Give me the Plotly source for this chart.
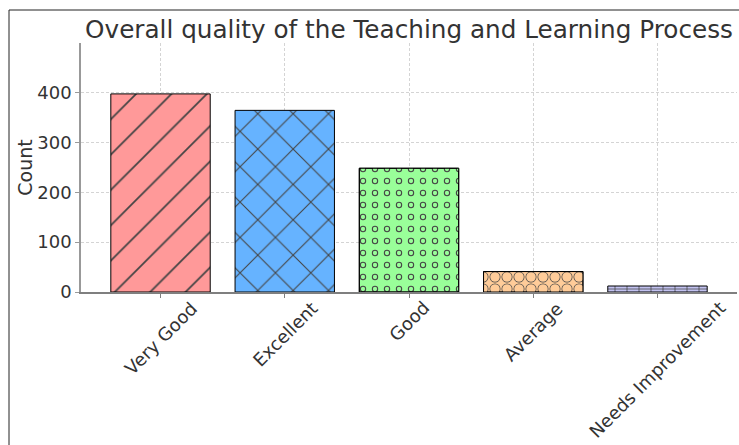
import plotly.graph_objects as go

categories = ['Very Good', 'Excellent', 'Good', 'Average', 'Needs Improvement']
counts = [397, 364, 248, 41, 12]
colors = ['#ff9999', '#66b3ff', '#99ff99', '#ffcc99', '#c2c2f0']
patterns = ['/', 'x', '.', '.', '+']
pattern_sizes = [25, 25, 12, 12, 12]
pattern_solidity = [0.07, 0.085, 0.22, 0.66, 0.12]
# inner holes punched into the dot patterns so they read as rings
hole_solidity = [0, 0, 0.1, 0.5, 0]
y_ticks = [0, 100, 200, 300, 400]

FONT = 'DejaVu Sans'
TEXT_COLOR = '#333333'
W, H = 739, 445
L, R, T, B = 81, 2, 43, 153

fig = go.Figure()
fig.add_trace(go.Bar(
    x=categories, y=counts, width=0.8,
    marker=dict(color=colors,
                line=dict(color='black', width=1),
                pattern=dict(shape=patterns, size=pattern_sizes,
                             solidity=pattern_solidity, fgcolor='black',
                             fgopacity=1)),
))
ring_idx = [i for i, s in enumerate(hole_solidity) if s > 0]
fig.add_trace(go.Bar(
    x=[categories[i] for i in ring_idx], y=[counts[i] for i in ring_idx],
    width=0.8,
    marker=dict(color='rgba(0,0,0,0)',
                line=dict(color='black', width=1),
                pattern=dict(shape='.', size=[pattern_sizes[i] for i in ring_idx],
                             solidity=[hole_solidity[i] for i in ring_idx],
                             fgcolor=[colors[i] for i in ring_idx],
                             fgopacity=1, fillmode='overlay')),
))

# rotated category labels, centred under each bar
for cat in categories:
    fig.add_annotation(x=cat, y=0, xref='x', yref='paper', text=cat,
                       textangle=-45, showarrow=False, xanchor='center',
                       yanchor='top', yshift=-3,
                       font=dict(family=FONT, size=18, color=TEXT_COLOR))

# figure frame
pw, ph = W - L - R, H - T - B
fig.add_shape(type='rect', xref='paper', yref='paper',
              x0=(9 - L) / pw, x1=1.2, y0=-1, y1=(H - B - 10) / ph,
              line=dict(color='#222222', width=1), layer='below')

fig.update_xaxes(
    range=[-0.64, 4.64], showgrid=True, gridcolor='#d4d4d4', gridwidth=0.8,
    griddash='3px,2px', showline=True, linecolor='#7f7f7f', linewidth=1.5,
    ticks='outside', ticklen=4, tickcolor='#7f7f7f', showticklabels=False,
    layer='above traces')
fig.update_yaxes(
    range=[0, 499], tickvals=y_ticks, showgrid=True, gridcolor='#d4d4d4',
    gridwidth=0.8, griddash='3px,2px', showline=True, linecolor='#999999',
    linewidth=1.5, ticks='outside', ticklen=4, tickcolor='#999999',
    zeroline=False, layer='above traces',
    tickfont=dict(family=FONT, size=18, color=TEXT_COLOR),
    title=dict(text='Count', standoff=0,
               font=dict(family=FONT, size=19, color=TEXT_COLOR)))

fig.update_layout(
    width=W, height=H,
    margin=dict(l=L, r=R, t=T, b=B),
    plot_bgcolor='white', paper_bgcolor='white',
    showlegend=False, barmode='overlay',
    title=dict(text='Overall quality of the Teaching and Learning Process',
               x=(L + (W - R)) / 2 / W, xanchor='center',
               y=1 - 29 / H, yanchor='middle',
               font=dict(family=FONT, size=24.7, color=TEXT_COLOR)),
)

fig.write_html('out.html', config={'displayModeBar': False},
               post_script="document.body.style.margin='0';")
